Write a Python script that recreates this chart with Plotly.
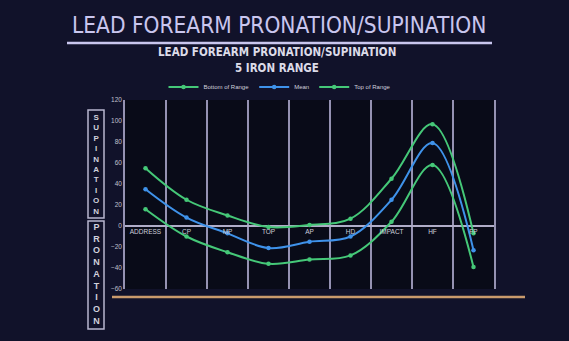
import plotly.graph_objects as go

categories = ["ADDRESS", "CP", "MP", "TOP", "AP", "HD", "IMPACT", "HF", "FP"]
bottom_of_range = [16, -10, -25, -36, -32, -28, 4, 58, -39]
mean_values = [35, 8, -7, -21, -15, -10, 25, 79, -23]
top_of_range = [55, 25, 10, -1, 1, 7, 45, 97, -7]
y_ticks = [-60, -40, -20, 0, 20, 40, 60, 80, 100, 120]

W, H = 569, 341
L, R, T, B = 125, 494, 100, 289


def px(x):
    return (x - L) / (R - L)


def py(y):
    return (B - y) / (B - T)


GREEN = "#45c878"
BLUE = "#3f92ea"
LAV = "#c9c6ee"
GRID = "#9592b2"

fig = go.Figure()
for name, vals, col in [("Bottom of Range", bottom_of_range, GREEN),
                        ("Mean", mean_values, BLUE),
                        ("Top of Range", top_of_range, GREEN)]:
    fig.add_trace(go.Scatter(
        x=categories, y=vals, name=name, mode="lines+markers",
        line=dict(color=col, width=2, shape="spline", smoothing=1.0),
        marker=dict(color=col, size=4.5),
    ))

annotations = [
    dict(text="LEAD FOREARM PRONATION/SUPINATION", x=px(279), y=py(25), xref="paper", yref="paper",
         showarrow=False, font=dict(family="Liberation Sans Narrow, DejaVu Sans Condensed, Liberation Sans", size=22.5, color=LAV),
         xanchor="center", yanchor="middle"),
    dict(text="<b>LEAD FOREARM PRONATION/SUPINATION</b>", x=px(277), y=py(52), xref="paper", yref="paper",
         showarrow=False, font=dict(family="Liberation Sans Narrow, DejaVu Sans Condensed, Liberation Sans", size=11.5, color="#dcdbe8"),
         xanchor="center", yanchor="middle"),
    dict(text="<b>5 IRON RANGE</b>", x=px(277), y=py(68), xref="paper", yref="paper",
         showarrow=False, font=dict(family="Liberation Sans Narrow, DejaVu Sans Condensed, Liberation Sans", size=11.5, color="#dcdbe8"),
         xanchor="center", yanchor="middle"),
    dict(text="<b>" + "<br>".join("SUPINATION") + "</b>", x=px(96), y=py(164), xref="paper", yref="paper",
         showarrow=False, font=dict(family="Liberation Sans", size=8, color="#d0d0dc"),
         xanchor="center", yanchor="middle"),
    dict(text="<b>" + "<br>".join("PRONATION") + "</b>", x=px(96), y=py(274), xref="paper", yref="paper",
         showarrow=False, font=dict(family="Liberation Sans", size=9, color="#d0d0dc"),
         xanchor="center", yanchor="middle"),
]

shapes = [
    dict(type="line", xref="paper", yref="paper", x0=px(67), x1=px(492), y0=py(43), y1=py(43),
         line=dict(color=LAV, width=2.5)),
    dict(type="rect", xref="paper", yref="paper", x0=px(88), x1=px(104), y0=py(110), y1=py(218),
         line=dict(color="#b8b6d0", width=1.5)),
    dict(type="rect", xref="paper", yref="paper", x0=px(88), x1=px(104), y0=py(221), y1=py(329),
         line=dict(color="#b8b6d0", width=1.5)),
    dict(type="line", xref="paper", yref="paper", x0=px(112), x1=px(525), y0=py(297), y1=py(297),
         line=dict(color="#c99a6c", width=2.5)),
]

fig.update_layout(
    width=W, height=H,
    margin=dict(l=L, r=W - R, t=T, b=H - B),
    paper_bgcolor="#11122a",
    plot_bgcolor="#090b18",
    showlegend=True,
    legend=dict(orientation="h", x=px(280), y=py(87), xanchor="center", yanchor="middle",
                font=dict(family="Liberation Sans Narrow, Liberation Sans", size=6, color="#d0d0dc"),
                bgcolor="rgba(0,0,0,0)", itemwidth=30, tracegroupgap=0),
    xaxis=dict(type="category", range=[-0.5, 8.5], anchor="free", position=1 / 3,
               showgrid=True, gridcolor=GRID, gridwidth=1.5, tickson="boundaries",
               showline=False, ticks="", zeroline=False,
               tickfont=dict(family="Liberation Sans", size=6.5, color="#cfcfdc")),
    yaxis=dict(range=[-60, 120], tickvals=y_ticks, showgrid=False, zeroline=True,
               zerolinecolor="#b0adc8", zerolinewidth=2, showline=True, mirror=True,
               linecolor=GRID, linewidth=1.5,
               tickfont=dict(family="Liberation Sans", size=6.5, color="#c0c0cc")),
    annotations=annotations,
    shapes=shapes,
    font=dict(family="Liberation Sans"),
)

fig.write_html("out.html")
